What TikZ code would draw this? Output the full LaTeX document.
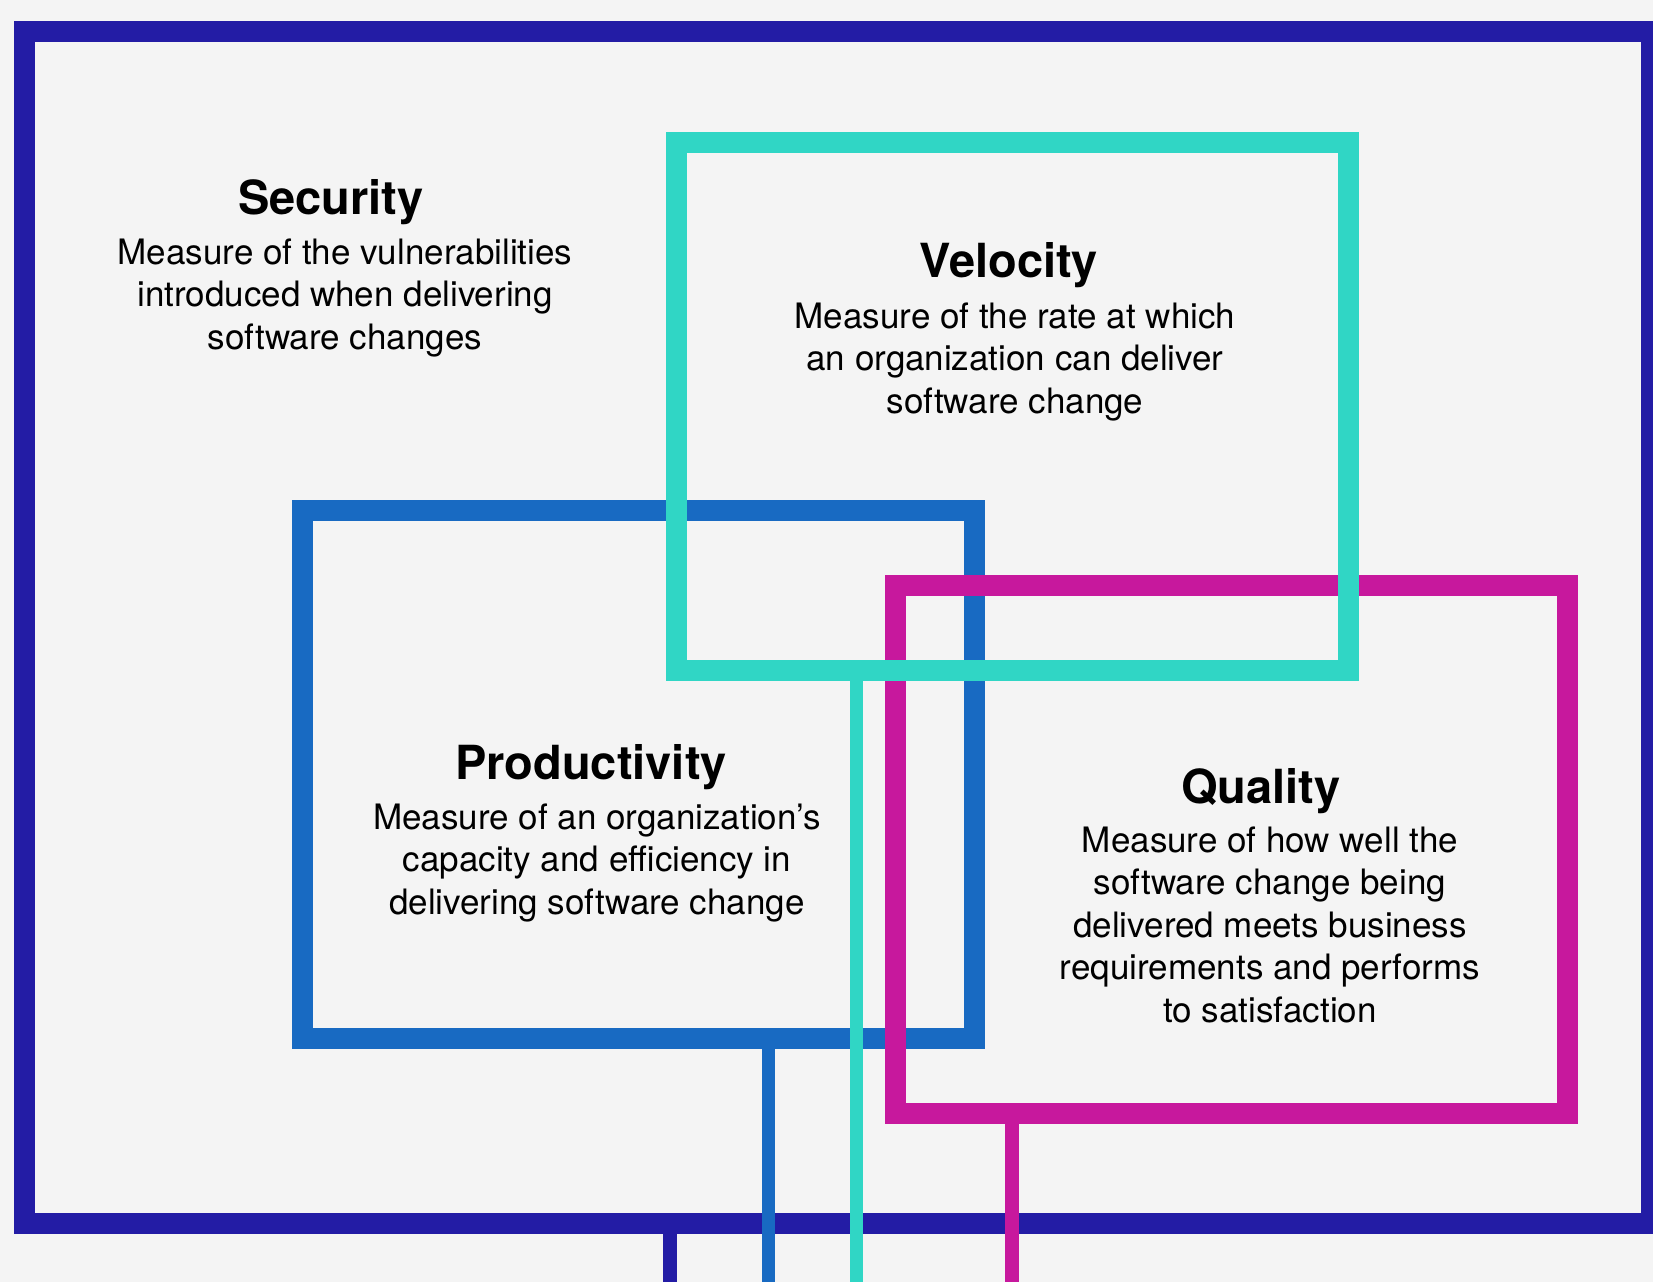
\documentclass[tikz,border=0pt]{standalone}
\usepackage{fontspec}
\setmainfont{TeX Gyre Heros}
\usepackage{tikz}
\usetikzlibrary{positioning}
\definecolor{paper}{RGB}{244,244,244}
\definecolor{navyline}{RGB}{35,28,165}
\definecolor{blueline}{RGB}{24,106,194}
\definecolor{tealline}{RGB}{48,214,197}
\definecolor{pinkline}{RGB}{199,24,157}
\tikzset{
  frame/.style={draw=#1,line width=10.5pt,minimum width=336pt,minimum height=264pt,inner sep=0pt},
  drop/.style={draw=#1,line width=6.75pt},
  heading/.style={anchor=base,font=\fontsize{23.5}{28}\selectfont\bfseries},
  blurb/.style={anchor=base,align=center,font=\fontsize{17.5}{21.25}\selectfont}
}

\begin{document}
\begin{tikzpicture}[x=0.5pt,y=-0.5pt]
\useasboundingbox[fill=paper] (0,0) rectangle (1653,1282);
\coordinate (navyend) at (670,1282);
\coordinate (blueend) at (768.5,1282);
\coordinate (tealend) at (856.5,1282);
\coordinate (pinkend) at (1012,1282);

\node[frame=navyline,minimum width=813.5pt,minimum height=596pt] (allbox) at (838,627) {};
\draw[drop=navyline] (allbox.south -| navyend) -- (navyend);

\node[frame=blueline] (prodbox) at (638,774.5) {};
\draw[drop=blueline] (prodbox.south -| blueend) -- (blueend);
\node[frame=pinkline] (qualbox) at (1231.5,849.25) {};
\draw[drop=pinkline] (qualbox.south -| pinkend) -- (pinkend);
\node[frame=tealline] (velbox) at (1012.25,406.5) {};
\draw[drop=tealline] (velbox.south -| tealend) -- (tealend);

\node[heading] (sectitle) at (331,214) {Security};
\node[blurb] (secdesc) at (345,349) {Measure of the vulnerabilities\\introduced when delivering\\software changes};
\node[heading] (veltitle) at (1009,277) {Velocity};
\node[blurb] (veldesc) at (1015,413) {Measure of the rate at which\\an organization can deliver\\software change};
\node[heading] (prodtitle) at (591,779) {Productivity};
\node[blurb] (proddesc) at (597,914) {Measure of an organization’s\\capacity and efficiency in\\delivering software change};
\node[heading] (qualtitle) at (1261,803) {Quality};
\node[blurb] (qualdesc) at (1270,1022) {Measure of how well the\\software change being\\delivered meets business\\requirements and performs\\to satisfaction};
\end{tikzpicture}
\end{document}
